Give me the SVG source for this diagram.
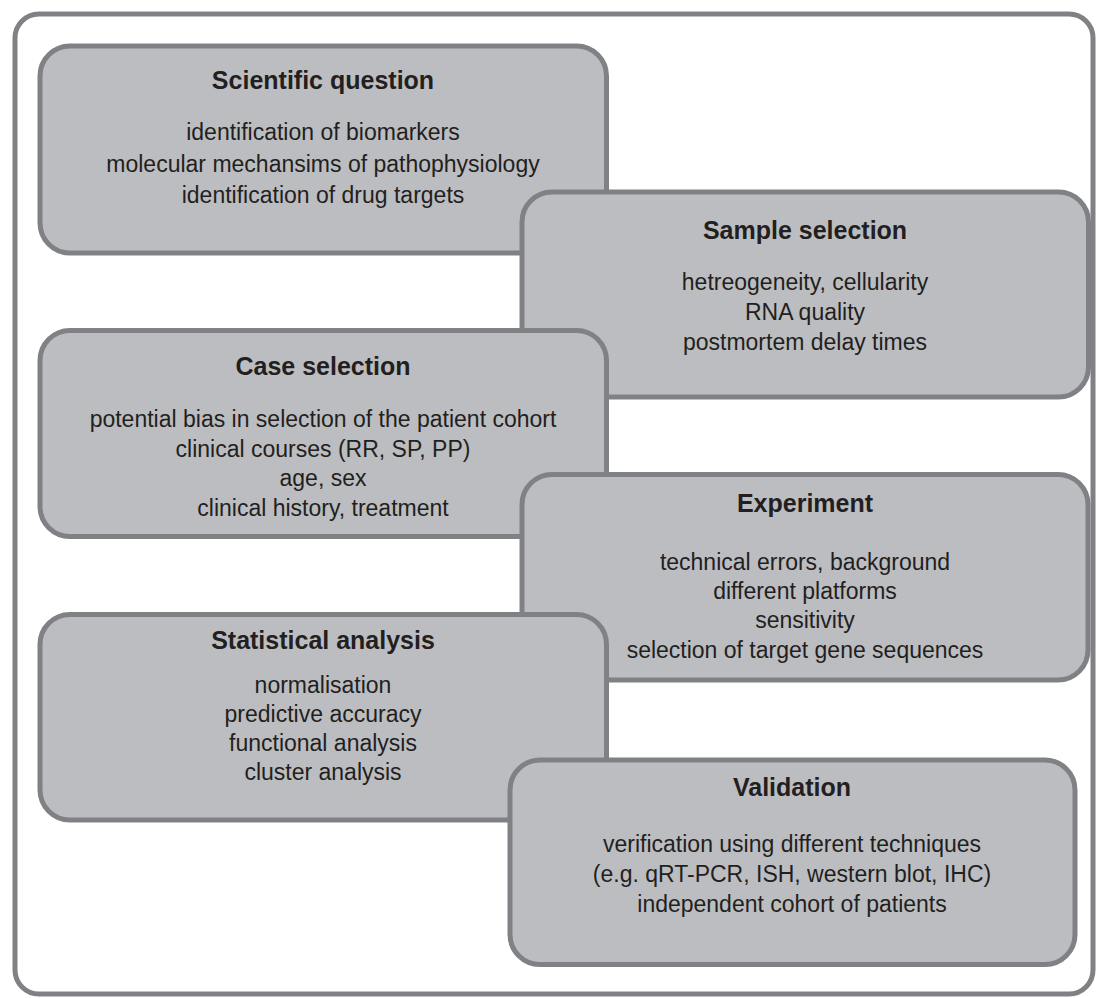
<svg xmlns="http://www.w3.org/2000/svg" width="1098" height="998" viewBox="0 0 1098 998">
<style>
.frame{fill:#ffffff;stroke:#808184;stroke-width:5}
.box{fill:#bcbdc0;stroke:#808184;stroke-width:5}
.title{font-family:"Liberation Sans",Arial,sans-serif;font-weight:bold;font-size:25px;fill:#231f20;text-anchor:middle}
.body{font-family:"Liberation Sans",Arial,sans-serif;font-size:23px;fill:#231f20;text-anchor:middle}
</style>
<rect class="frame" x="15" y="14" width="1078" height="980" rx="24" ry="24"/>
<g id="connectors"/>
<g id="scientific-question">
<rect class="box" x="40" y="46" width="566.5" height="207" rx="30" ry="30"/>
<text class="title" x="323" y="89">Scientific question</text>
<text class="body" x="323" y="140">identification of biomarkers</text>
<text class="body" x="323" y="172">molecular mechansims of pathophysiology</text>
<text class="body" x="323" y="203">identification of drug targets</text>
</g>
<g id="sample-selection">
<rect class="box" x="522" y="192" width="566.5" height="205" rx="30" ry="30"/>
<text class="title" x="805" y="239">Sample selection</text>
<text class="body" x="805" y="290">hetreogeneity, cellularity</text>
<text class="body" x="805" y="320">RNA quality</text>
<text class="body" x="805" y="350">postmortem delay times</text>
</g>
<g id="case-selection">
<rect class="box" x="40" y="330.5" width="566.5" height="206" rx="30" ry="30"/>
<text class="title" x="323" y="375">Case selection</text>
<text class="body" x="323" y="427">potential bias in selection of the patient cohort</text>
<text class="body" x="323" y="457">clinical courses (RR, SP, PP)</text>
<text class="body" x="323" y="486">age, sex</text>
<text class="body" x="323" y="516">clinical history, treatment</text>
</g>
<g id="experiment">
<rect class="box" x="522" y="474.5" width="566" height="205.5" rx="30" ry="30"/>
<text class="title" x="805" y="512">Experiment</text>
<text class="body" x="805" y="570">technical errors, background</text>
<text class="body" x="805" y="599">different platforms</text>
<text class="body" x="805" y="628">sensitivity</text>
<text class="body" x="805" y="658">selection of target gene sequences</text>
</g>
<g id="statistical-analysis">
<rect class="box" x="40" y="614.5" width="566.5" height="205.5" rx="30" ry="30"/>
<text class="title" x="323" y="649">Statistical analysis</text>
<text class="body" x="323" y="693">normalisation</text>
<text class="body" x="323" y="722">predictive accuracy</text>
<text class="body" x="323" y="751">functional analysis</text>
<text class="body" x="323" y="780">cluster analysis</text>
</g>
<g id="validation">
<rect class="box" x="510" y="760" width="565" height="204.5" rx="30" ry="30"/>
<text class="title" x="792" y="796">Validation</text>
<text class="body" x="792" y="852">verification using different techniques</text>
<text class="body" x="792" y="882">(e.g. qRT-PCR, ISH, western blot, IHC)</text>
<text class="body" x="792" y="912">independent cohort of patients</text>
</g>
</svg>
